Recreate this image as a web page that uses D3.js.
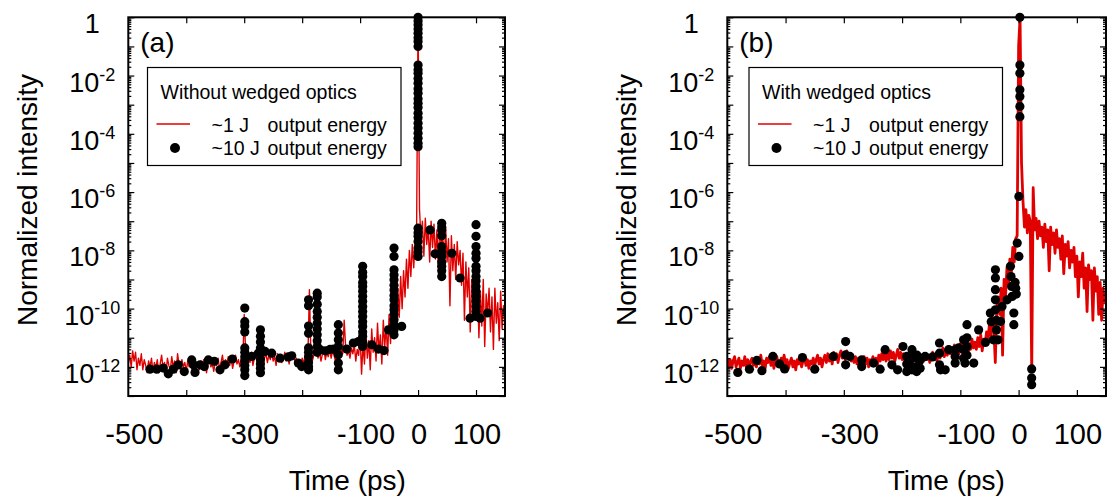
<!DOCTYPE html>
<html><head><meta charset="utf-8">
<script src="https://cdn.jsdelivr.net/npm/d3@7"></script>
<style>
body{margin:0;background:#fff}
text{font-family:"Liberation Sans",Arial,Helvetica,sans-serif;fill:#000}
</style>
</head><body>
<svg id="chart" width="1109" height="498"></svg>
<script>
// ---------------- data (log10 of normalized intensity) ----------------
const timeStart = -500, timeStep = 2.5;   // red traces sampled every 2.5 ps
const xDomain = [-500, 150];
const yDomain = [1e-13, 1];
const xTicks = [-400, -300, -200, -100, 0, 100];
const xTickLabels = [-500, -300, -100, 0, 100];
const yLabelExps = [0, -2, -4, -6, -8, -10, -12];
const panelLabels = ["(a)", "(b)"];
const legendTitles = ["Without wedged optics", "With wedged optics"];
const legendSeries = ["~1 J", "~10 J"];
const legendSuffix = "output energy";

// ~1 J trace, without wedged optics
const redA = [
-11.9,-11.6,-12.0,-11.45,-11.8,-11.5,-12.1,-11.7,-11.95,-11.55,
-12.1,-11.75,-11.95,-12.2,-11.8,-12.0,-11.7,-12.15,-11.85,-12.05,
-11.75,-12.2,-11.9,-11.6,-12.05,-11.85,-12.25,-11.7,-11.95,-12.1,
-11.65,-12.0,-11.8,-12.2,-11.55,-11.9,-12.1,-11.75,-12.0,-11.85,
-12.15,-11.8,-12.0,-11.7,-12.1,-11.9,-12.2,-11.85,-11.95,-12.1,
-11.8,-12.05,-11.75,-11.95,-12.2,-11.85,-11.7,-12.0,-11.9,-12.15,
-11.8,-11.95,-11.7,-12.1,-11.85,-11.6,-12.0,-11.75,-11.9,-11.65,
-11.95,-11.7,-12.05,-11.8,-11.6,-11.9,-11.75,-12.0,-11.7,-11.85,
-10.2,-11.5,-12.0,-11.6,-11.85,-11.5,-11.95,-11.7,-11.55,-11.9,
-11.6,-11.8,-11.45,-12.0,-11.7,-11.55,-11.85,-11.6,-11.75,-11.5,
-11.8,-11.65,-11.95,-11.55,-11.75,-11.6,-11.85,-11.7,-11.5,-11.8,
-11.65,-11.9,-11.6,-11.75,-11.55,-11.85,-11.7,-11.95,-11.8,-12.0,
-11.7,-11.9,-11.6,-11.85,-11.55,-9.35,-11.5,-11.8,-11.6,-10.8,
-11.45,-11.7,-11.5,-11.8,-11.55,-11.35,-11.75,-11.5,-11.65,-11.4,
-11.7,-11.45,-11.6,-11.8,-11.5,-11.35,-11.65,-11.4,-11.55,-10.4,
-11.3,-11.6,-11.45,-11.7,-11.35,-11.55,-11.25,-11.8,-11.4,-11.6,
-10.9,-12.25,-11.2,-11.9,-10.8,-11.7,-11.1,-12.1,-10.7,-11.5,
-11.0,-11.8,-10.5,-11.5,-10.9,-11.9,-10.4,-11.3,-10.6,-11.6,
-10.2,-11.2,-9.8,-10.9,-9.6,-10.5,-9.3,-10.3,-8.9,-10.0,
-8.7,-9.6,-8.3,-9.3,-8.0,-8.9,-7.8,-8.6,-7.6,-7.2,
0,-6.6,-7.6,-7.0,-8.2,-6.9,-7.8,-7.2,-8.4,-7.0,
-7.9,-7.1,-8.3,-7.3,-8.6,-7.0,-8.0,-7.4,-8.8,-7.2,
-8.4,-7.6,-9.9,-7.5,-8.7,-7.8,-9.0,-7.7,-8.5,-8.0,
-9.2,-8.1,-10.4,-8.4,-9.6,-8.6,-10.8,-9.0,-9.8,-8.8,
-10.3,-9.2,-11.0,-9.4,-10.6,-9.0,-11.3,-9.5,-10.2,-9.3,
-10.8,-9.6,-11.4,-9.3,-10.5,-9.8,-11.1,-9.4,-10.7,-9.9,-10.4
];

// ~1 J trace, with wedged optics
const redB = [
-11.7,-12.0,-11.75,-12.05,-11.8,-11.65,-12.0,-11.85,-11.7,-12.05,
-11.8,-11.95,-11.65,-12.0,-11.75,-12.1,-11.8,-11.7,-11.95,-11.75,
-12.0,-11.7,-11.9,-11.6,-11.95,-11.8,-12.05,-11.7,-11.85,-11.65,
-11.95,-11.75,-12.05,-11.8,-11.65,-11.9,-12.0,-11.7,-11.85,-11.6,
-11.95,-11.75,-12.05,-11.85,-11.7,-12.0,-11.8,-12.1,-11.75,-11.9,
-11.7,-12.0,-11.8,-11.65,-11.95,-11.75,-12.05,-11.8,-11.9,-11.7,
-11.95,-11.75,-11.6,-11.9,-11.7,-12.0,-11.75,-11.6,-11.85,-11.55,
-11.8,-11.6,-11.9,-11.5,-11.75,-11.55,-11.85,-11.6,-11.45,-11.7,
-11.5,-11.75,-11.45,-11.7,-11.55,-11.8,-11.6,-11.85,-11.65,-11.9,
-11.7,-11.95,-11.75,-11.85,-11.65,-11.9,-11.7,-12.0,-11.75,-11.85,
-11.65,-11.9,-11.7,-11.95,-11.6,-11.8,-11.55,-11.75,-11.5,-11.8,
-11.55,-11.75,-11.45,-11.7,-11.5,-11.8,-11.6,-11.4,-11.7,-11.5,
-11.75,-11.55,-11.8,-11.6,-11.85,-11.65,-11.9,-11.7,-11.75,-11.6,
-11.85,-11.65,-11.9,-11.7,-11.6,-11.8,-11.55,-11.75,-11.6,-11.85,
-11.65,-11.5,-11.75,-11.55,-11.8,-11.45,-11.7,-11.5,-11.35,-11.65,
-11.4,-11.6,-11.3,-11.55,-11.35,-11.6,-11.25,-11.5,-11.3,-11.55,
-11.2,-11.5,-11.25,-11.45,-11.1,-11.6,-11.2,-11.4,-11.05,-11.35,
-11.15,-11.4,-11.0,-11.3,-10.9,-11.45,-11.05,-11.2,-10.8,-11.1,
-10.5,-10.9,-10.3,-10.7,-11.85,-10.0,-9.6,-10.2,-9.3,-11.6,
-9.0,-9.6,-8.6,-9.2,-8.3,-8.8,-7.9,-8.4,-7.6,-7.5,
-1.0,0,-5.0,-6.3,-7.2,-6.6,-7.4,-6.8,-7.0,-12.15,
-5.85,-7.3,-6.9,-7.6,-7.0,-7.5,-7.2,-7.9,-7.1,-7.7,
-7.3,-8.7,-7.2,-7.8,-7.4,-8.1,-7.3,-7.9,-7.6,-8.3,
-7.5,-8.8,-7.8,-8.2,-7.7,-8.6,-8.0,-8.4,-7.9,-8.9,
-8.2,-9.6,-8.4,-8.9,-8.1,-9.3,-8.6,-10.1,-8.5,-9.0,
-8.7,-10.4,-8.6,-9.4,-8.9,-10.2,-9.1,-10.4,-9.3,-9.8,-9.6
];

// ~10 J shots, without wedged optics: [time ps, log10 intensity]
const dotsA = [
[-462.6,-12.08],[-451,-12.08],[-439.6,-12.04],[-431,-12.24],[-422.3,-12.08],[-413.7,-11.93],
[-403.4,-12.16],[-390.6,-11.76],[-387.7,-11.93],[-384.9,-12.19],[-376.3,-11.93],[-368.9,-11.99],
[-361.9,-11.76],[-351.6,-11.81],[-341.8,-12.10],[-333.1,-11.93],[-320.5,-11.73],
[-299,-9.98],[-299,-10.45],[-299,-10.6],[-299,-10.8],[-299,-11.35],[-299,-11.5],[-299,-11.65],
[-299,-11.8],[-299,-11.95],[-299,-12.1],[-299,-12.3],
[-287,-11.64],[-275.7,-11.53],
[-272,-10.73],[-272,-10.95],[-272,-11.15],[-272,-11.35],[-272,-11.55],[-272,-11.75],[-272,-11.9],
[-272,-12.05],[-272,-12.2],
[-264,-11.47],[-252.5,-11.53],[-238,-11.70],[-224,-11.66],[-218,-11.62],[-206.6,-11.87],[-200.8,-11.99],
[-189,-9.70],[-189,-9.9],[-189,-10.6],[-189,-10.85],[-189,-11.35],[-189,-11.5],[-189,-11.65],
[-189,-11.85],[-189,-12.0],[-189,-12.1],
[-174,-9.47],[-174,-9.6],[-174,-9.85],[-174,-10.1],[-174,-10.3],[-174,-10.5],[-174,-10.7],
[-174,-10.9],[-174,-11.1],[-174,-11.3],[-174,-11.5],
[-169,-11.41],[-160,-11.45],[-152,-11.4],[-146,-11.39],
[-137.6,-10.55],[-137.6,-10.84],[-137.6,-11.07],[-137.6,-11.3],[-137.6,-11.58],[-137.6,-11.87],[-137.6,-12.1],
[-123,-11.39],[-111.7,-11.18],[-103,-11.13],
[-95.6,-8.55],[-95.6,-8.75],[-95.6,-8.9],[-95.6,-9.1],[-95.6,-9.24],[-95.6,-9.4],[-95.6,-9.58],
[-95.6,-9.75],[-95.6,-9.93],[-95.6,-10.1],[-95.6,-10.27],[-95.6,-10.45],[-95.6,-10.61],[-95.6,-10.8],
[-95.6,-10.95],[-95.6,-11.15],[-95.6,-11.3],
[-80,-11.24],[-68.6,-11.39],[-58.8,-11.44],
[-41.5,-7.92],[-41.5,-8.21],[-41.5,-8.67],[-41.5,-8.85],[-41.5,-9.01],[-41.5,-9.2],[-41.5,-9.36],
[-41.5,-9.55],[-41.5,-9.7],[-41.5,-9.9],[-41.5,-10.04],[-41.5,-10.2],[-41.5,-10.38],[-41.5,-10.55],
[-41.5,-10.73],[-41.5,-10.9],
[-51,-10.73],[-28.3,-10.61],
[0,0],[0,-0.13],[0,-0.26],[0,-0.4],[0,-0.55],[0,-0.7],[0,-0.83],[0,-1.0],
[0,-1.64],[0,-1.8],[0,-1.92],[0,-2.1],[0,-2.26],[0,-2.45],[0,-2.61],[0,-2.8],[0,-2.95],[0,-3.1],
[0,-3.29],[0,-3.45],[0,-3.64],[0,-3.8],[0,-3.98],[0,-4.15],[0,-4.32],[0,-4.44],
[0,-7.24],[0,-7.4],[0,-7.52],[0,-7.7],[0,-7.92],[0,-8.05],[0,-8.21],
[20.6,-7.30],[29.3,-8.12],
[40.8,-7.07],[40.8,-7.2],[40.8,-7.3],[40.8,-7.5],[40.8,-7.87],[40.8,-8.05],[40.8,-8.21],[40.8,-8.4],
[40.8,-8.55],[40.8,-8.7],[40.8,-8.9],
[58.2,-8.10],[72.5,-8.95],
[100,-7.12],[100,-7.52],[100,-7.87],[100,-8.1],[100,-8.27],[100,-8.55],[100,-8.7],[100,-8.9],
[100,-9.05],[100,-9.24],[100,-9.4],[100,-9.58],[100,-9.75],[100,-9.93],[100,-10.1],[100,-10.27],
[89.7,-10.33],[107,-10.33],[120,-10.15]
];

// ~10 J shots, with wedged optics
const dotsB = [
[-482,-12.19],[-462,-12.08],[-449.3,-11.78],[-440.6,-12.13],[-421.7,-11.64],[-410.2,-11.90],
[-401.6,-12.07],[-371,-11.68],[-349.9,-12.08],[-318.1,-11.64],[-296.9,-11.13],[-296.9,-11.59],
[-296.9,-11.93],[-289.5,-11.64],[-269.3,-11.76],[-269.3,-11.99],[-249.1,-11.87],[-237.7,-12.08],
[-229.1,-11.41],[-217.5,-11.93],[-207.7,-12.10],[-198.5,-11.30],[-183,-11.41],[-183,-11.7],
[-183,-12.1],[-174.4,-11.6],
[-192,-11.64],[-192,-11.9],[-192,-12.16],[-186,-11.75],[-180,-12.0],[-175,-12.16],[-170,-11.8],
[-169,-12.05],[-160.5,-11.64],[-147.8,-11.66],[-135.8,-11.18],[-135.8,-11.53],[-135.8,-11.93],
[-134,-12.1],[-126,-12.1],[-120,-11.41],[-108.9,-11.41],[-108.9,-11.64],[-108.9,-11.87],
[-103,-11.35],[-94.4,-11.07],[-94.4,-11.4],[-94.4,-11.7],[-92,-11.87],[-88.6,-10.55],[-88.6,-11.0],
[-88.6,-11.3],[-88.6,-11.6],[-77,-11.87],[-68.6,-10.73],[-57,-11.16],[-48.5,-10.15],[-47,-10.45],
[-43.5,-11.07],[-39.8,-8.67],[-39.8,-8.95],[-39.8,-9.35],[-39.8,-9.7],[-39.8,-10.04],[-38,-10.4],
[-38,-10.73],[-35.3,-11.07],[-31.1,-10.44],[-28.5,-9.93],[-19.7,-9.70],[-14,-8.55],[-13,-8.90],
[-12,-9.24],[-11,-9.58],[-8.2,-10.15],[-8.2,-10.55],[-6,-9.1],[-5,-9.3],[-4,-9.5],[-2.4,-7.75],
[0.5,-8.21],[2.2,0],[2.2,-1.64],[2.2,-1.92],[2.2,-2.49],[2.2,-2.72],[2.2,-3.06],[2.2,-3.41],
[0.5,-6.15],[22.4,-12.07],[22.4,-12.38],[22.4,-12.61]
];

// ---------------- drawing ----------------
const svg = d3.select("#chart");
const plotTop = 17.3, plotBottom = 396;
const panels = [
  {left:128.3, right:505, red:redA, dots:dotsA, lw:1.4, legendX:147.5},
  {left:727.3, right:1106, red:redB, dots:dotsB, lw:2.8, legendX:749}
];
const redColor = "#e00000";

panels.forEach((p, k) => {
  const g = svg.append("g");
  const x = d3.scaleLinear().domain(xDomain).range([p.left, p.right]);
  const y = d3.scaleLog().domain(yDomain).range([plotBottom, plotTop]);

  const clipId = "clip" + k;
  svg.append("clipPath").attr("id", clipId).append("rect")
    .attr("x", p.left).attr("y", plotTop).attr("width", p.right - p.left).attr("height", plotBottom - plotTop);

  const line = d3.line()
    .x((d, i) => x(timeStart + i * timeStep))
    .y(d => y(Math.pow(10, d)));
  g.append("path").datum(p.red)
    .attr("clip-path", `url(#${clipId})`)
    .attr("d", line).attr("fill", "none")
    .attr("stroke", redColor).attr("stroke-width", p.lw).attr("stroke-linejoin", "round");

  g.append("g").selectAll("circle").data(p.dots).join("circle")
    .attr("cx", d => x(d[0])).attr("cy", d => y(Math.pow(10, d[1])))
    .attr("r", 4.6).attr("fill", "#000");

  // ticks
  const majorY = d3.range(0, -14, -1).map(e => Math.pow(10, e));
  const minorY = [];
  for (let e = -13; e < 0; e++) for (let m = 2; m <= 9; m++) minorY.push(m * Math.pow(10, e));
  const noDomain = s => s.select(".domain").remove();
  const tickStyle = s => s.selectAll("line").attr("stroke", "#000").attr("stroke-width", 1.2);
  g.append("g").attr("transform", `translate(${p.left},0)`)
    .call(d3.axisLeft(y).tickValues(majorY).tickSize(-6).tickFormat("")).call(noDomain).call(tickStyle);
  g.append("g").attr("transform", `translate(${p.left},0)`)
    .call(d3.axisLeft(y).tickValues(minorY).tickSize(-3).tickFormat("")).call(noDomain).call(tickStyle);
  g.append("g").attr("transform", `translate(${p.right},0)`)
    .call(d3.axisRight(y).tickValues(majorY).tickSize(-6).tickFormat("")).call(noDomain).call(tickStyle);
  g.append("g").attr("transform", `translate(${p.right},0)`)
    .call(d3.axisRight(y).tickValues(minorY).tickSize(-3).tickFormat("")).call(noDomain).call(tickStyle);
  g.append("g").attr("transform", `translate(0,${plotBottom})`)
    .call(d3.axisBottom(x).tickValues(xTicks).tickSize(-6).tickFormat("")).call(noDomain).call(tickStyle);
  g.append("g").attr("transform", `translate(0,${plotTop})`)
    .call(d3.axisTop(x).tickValues(xTicks).tickSize(-6).tickFormat("")).call(noDomain).call(tickStyle);

  // frame
  g.append("rect").attr("x", p.left).attr("y", plotTop)
    .attr("width", p.right - p.left).attr("height", plotBottom - plotTop)
    .attr("fill", "none").attr("stroke", "#000").attr("stroke-width", 2);

  // x tick labels
  g.append("g").selectAll("text").data(xTickLabels).join("text")
    .attr("x", d => x(d) + (d < 0 ? 6 : 1)).attr("y", 444)
    .attr("text-anchor", "middle").attr("font-size", 29)
    .text(d => d);

  // y tick labels
  const yl = g.append("g").selectAll("text").data(yLabelExps).join("text")
    .attr("x", p.left - 36).attr("y", d => y(Math.pow(10, d)) + 16)
    .attr("text-anchor", "middle").attr("font-size", 27);
  yl.each(function(d) {
    const t = d3.select(this);
    if (d === 0) { t.text("1"); return; }
    t.append("tspan").text("10");
    t.append("tspan").attr("font-size", 18).attr("dy", -11).text(d);
  });

  // axis titles
  g.append("text").attr("transform", `translate(${p.left - 101},${200}) rotate(-90)`)
    .attr("text-anchor", "middle").attr("dominant-baseline", "central")
    .attr("font-size", 28).text("Normalized intensity");
  g.append("text").attr("x", p.left + 219).attr("y", 490)
    .attr("text-anchor", "middle").attr("font-size", 28).text("Time (ps)");

  // panel label
  g.append("text").attr("x", p.left + 12).attr("y", 52).attr("font-size", 28).text(panelLabels[k]);

  // legend
  const lx = p.legendX;
  g.append("rect").attr("x", lx).attr("y", 67.5).attr("width", 253.5).attr("height", 98)
    .attr("fill", "#fff").attr("stroke", "#000").attr("stroke-width", 1.2);
  g.append("text").attr("x", lx + 13).attr("y", 99).attr("font-size", 19.5).text(legendTitles[k]);
  g.append("line").attr("x1", lx + 9).attr("x2", lx + 42.5).attr("y1", 124).attr("y2", 124)
    .attr("stroke", redColor).attr("stroke-width", 1.5);
  g.append("circle").attr("cx", lx + 27.5).attr("cy", 148).attr("r", 5).attr("fill", "#000");
  legendSeries.forEach((s, i) => {
    g.append("text").attr("x", lx + 64).attr("y", 132 + i * 23).attr("font-size", 19.5).text(s);
    g.append("text").attr("x", lx + 120).attr("y", 132 + i * 23).attr("font-size", 19.5).text(legendSuffix);
  });
});
</script>
</body></html>
